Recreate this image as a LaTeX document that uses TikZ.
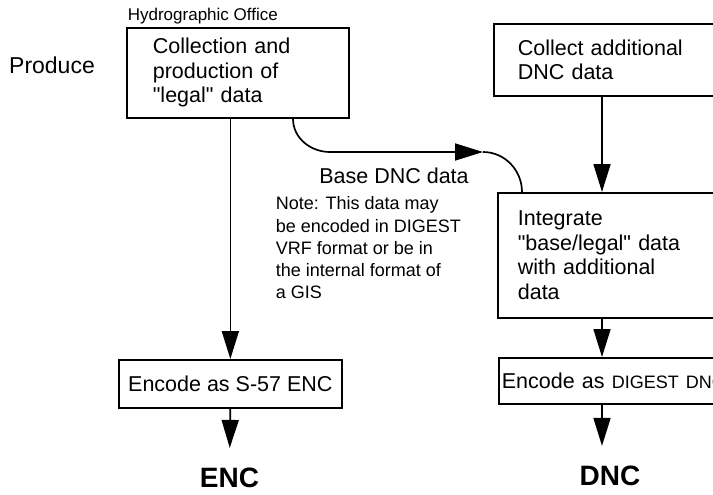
\documentclass[tikz,border=0pt]{standalone}
\usepackage{fontspec}
\setmainfont{Liberation Sans}
\usetikzlibrary{arrows.meta}
\usetikzlibrary{positioning}
\newcommand{\boxfont}{\fontsize{21.5}{24.5}\selectfont}
\newcommand{\notefont}{\fontsize{18}{22.2}\selectfont}
\newcommand{\digestfont}{\fontsize{18}{20}\selectfont}
\newcommand{\outfont}{\fontsize{28}{30}\selectfont\bfseries}

\begin{document}
\begin{tikzpicture}[x=1pt,y=-1pt,line width=1.7pt,>={Triangle[length=28pt,width=17pt]},
      proc/.style={draw,anchor=north west,align=left,inner ysep=0pt,font=\boxfont},
      flow/.style={->},
      outflow/.style={->,shorten >=16pt}]
  \useasboundingbox (0,0) rectangle (713,495);
  \clip (0,0) rectangle (713,495);
  % left column
  \node[font=\fontsize{23}{25}\selectfont]                  (prod)   at (52,65)  {Produce};
  \node[anchor=base west,inner sep=0pt,font=\fontsize{17}{19}\selectfont] (hydro) at (127,21) {Hydrographic Office};
  \node[proc,inner xsep=26pt,text width=170pt,minimum height=90pt] (coll) at (126,27)
        {Collection and\\production of\\\textquotedbl legal\textquotedbl{} data};
  \node[proc,inner xsep=0pt,minimum width=223pt,minimum height=48pt] (enc) at (118,359) {Encode as S-57 ENC};
  \node[font=\outfont]                                        (encout) at (229.5,478) {ENC};
  % right column
  \node[proc,inner xsep=24pt,text width=189pt,minimum height=72pt] (collect) at (493,23)
        {Collect additional\\DNC data};
  \node[proc,inner xsep=20pt,text width=193pt,minimum height=125pt] (integ) at (497,192)
        {Integrate\\\textquotedbl base/legal\textquotedbl{} data\\with additional\\data};
  \node[proc,inner xsep=3pt,text width=226pt,minimum height=46pt] (dncenc) at (498,357)
        {Encode as {\digestfont DIGEST DNC}};
  \node[font=\outfont]                                        (dncout) at (610,476) {DNC};
  % base data between the columns
  \node[font=\boxfont]                                        (basedata) at (394,176) {Base DNC data};
  \node[anchor=north west,align=left,inner sep=0pt,font=\notefont] (note) at (275,196)
        {Note: This data may\\be encoded in DIGEST\\VRF format or be in\\the internal format of\\a GIS};
  \coordinate (rcol)   at (602,0);
  \coordinate (bstart) at (293,0);
  \coordinate (bend)   at (522,0);
  \coordinate (btip)   at (483,152);
  % connectors
  \draw[flow]    (coll.south -| enc.north)  --  (enc.north);
  \draw[outflow] (enc.south)                --  (encout.north);
  \draw[flow]    (collect.south -| rcol)    --  (integ.north -| rcol);
  \draw[flow]    (integ.south -| rcol)      --  (dncenc.north -| rcol);
  \draw[outflow] (dncenc.south -| rcol)     --  (dncout.north -| rcol);
  \draw[flow]    (coll.south -| bstart) to[out=-90,in=180] (330,152) -- (btip);
  \draw          (btip) to[out=0,in=90] (integ.north -| bend);
\end{tikzpicture}
\end{document}
